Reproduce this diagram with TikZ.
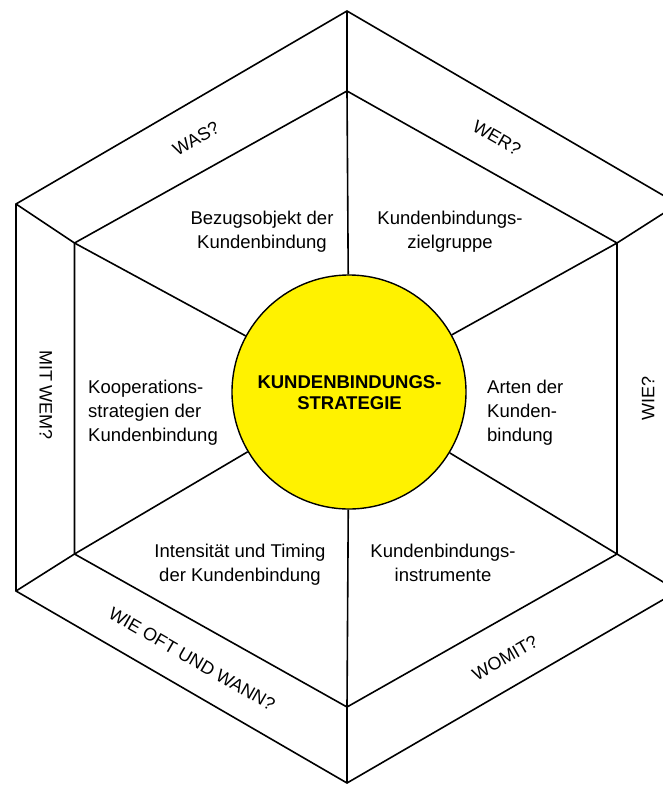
\documentclass[tikz,border=0pt]{standalone}
\usepackage{fontspec}
\setmainfont{Liberation Sans}
\begin{document}
\begin{tikzpicture}[x=1pt,y=-1pt,
  edge/.style={line width=1.6pt,line join=miter},
  body/.style={font=\fontsize{18.5}{24}\selectfont,inner sep=0pt,anchor=base},
  band/.style={font=\fontsize{18}{22}\selectfont,inner sep=0pt}]
\useasboundingbox (0,0) rectangle (663,785);
\clip (0,0) rectangle (663,785);

% outer hexagon corners
\coordinate (ot) at (347,11);
\coordinate (oul) at (16,204);
\coordinate (oll) at (16,591);
\coordinate (ob) at (347,783);
\coordinate (olr) at (678,591);
\coordinate (our) at (678,204);
% inner hexagon corners
\coordinate (it) at (347,91);
\coordinate (iul) at (74.5,243);
\coordinate (ill) at (74.5,554);
\coordinate (ib) at (347,707);
\coordinate (ilr) at (617,554);
\coordinate (iur) at (617,243);

\draw[edge] (ot) -- (oul) -- (oll) -- (ob) -- (olr) -- (our) -- cycle;
\draw[edge] (it) -- (iul) -- (ill) -- (ib) -- (ilr) -- (iur) -- cycle;
\foreach \a/\b in {ot/it,oul/iul,oll/ill,ob/ib,olr/ilr,our/iur}
  \draw[edge] (\a) -- (\b);

% central circle
\node[circle,draw,line width=1.4pt,fill=yellow,minimum size=234pt,inner sep=0pt]
  (c) at (349,392) {};
\foreach \v in {it,iul,ill,ib,ilr,iur}
  \draw[edge] (c) -- (\v);
\node[font=\fontsize{18.5}{21}\selectfont\bfseries,align=center,inner sep=0pt,anchor=base]
  (ctext) at (349.5,409) {KUNDENBINDUNGS-\\STRATEGIE};

% segment texts (anchored at the baseline of their last line)
\node[body,align=center] (s1) at (262,248) {Bezugsobjekt der\\Kundenbindung};
\node[body,align=center] (s2) at (450,248) {Kundenbindungs-\\zielgruppe};
\node[body,align=left,anchor=base west] (s3) at (487,441) {Arten der\\Kunden-\\bindung};
\node[body,align=center] (s4) at (443,581) {Kundenbindungs-\\instrumente};
\node[body,align=center] (s5) at (240,581) {Intensität und Timing\\der Kundenbindung};
\node[body,align=left,anchor=base west] (s6) at (88,441) {Kooperations-\\strategien der\\Kundenbindung};

% question labels in the outer band
\node[band,rotate=30] (q1) at (196,139) {WAS?};
\node[band,rotate=-30] (q2) at (497,138) {WER?};
\node[band,rotate=90] (q3) at (648,398) {WIE?};
\node[band,rotate=30] (q4) at (505,658) {WOMIT?};
\node[band,rotate=-30] (q5) at (192,659) {WIE OFT UND WANN?};
\node[band,rotate=-90] (q6) at (46,395) {MIT WEM?};
\end{tikzpicture}
\end{document}
